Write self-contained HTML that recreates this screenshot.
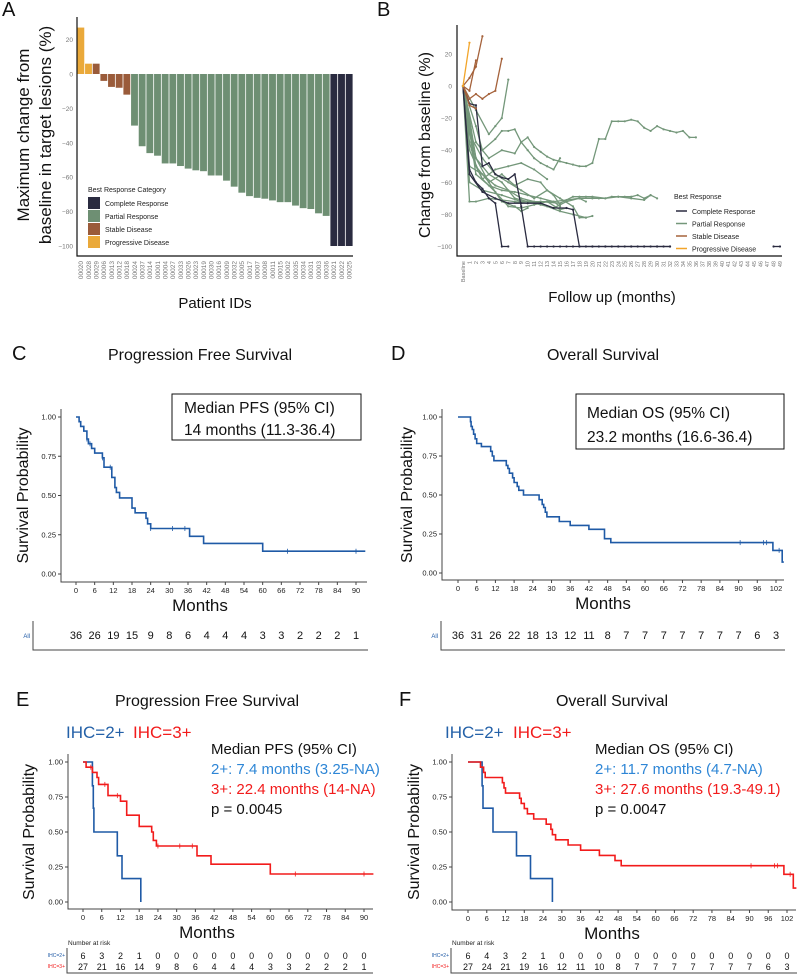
<!DOCTYPE html>
<html><head><meta charset="utf-8">
<style>
html,body{margin:0;padding:0;background:#fff}
svg{display:block;font-family:"Liberation Sans",sans-serif}
</style></head>
<body>
<svg id="fig" width="799" height="974" viewBox="0 0 799 974" xmlns="http://www.w3.org/2000/svg"></svg>
<script>
// ---------- Panel A data ----------
const aIds=["00020","00028","00029","00006","00013","00012","00018","00024","00037","00014","00001","00004","00027","00033","00026","00023","00019","00030","00016","00009","00032","00005","00017","00007","00008","00011","00015","00002","00035","00034","00031","00003","00036","00021","00022","00025"];
const aValues=[27,6,6,-4,-7.5,-8,-12,-30,-42,-46,-47.5,-52,-52,-53.5,-55,-56,-56.5,-59,-59,-62,-65.5,-69,-71,-72,-72.5,-73.5,-74.5,-74.5,-76.5,-78,-78.5,-81,-82.5,-100,-100,-100];
const aCats=["PD","PD","SD","SD","SD","SD","SD","PR","PR","PR","PR","PR","PR","PR","PR","PR","PR","PR","PR","PR","PR","PR","PR","PR","PR","PR","PR","PR","PR","PR","PR","PR","PR","CR","CR","CR"];
const aTicks=[20,0,-20,-40,-60,-80,-100];
// ---------- Panel B data ----------
const bMonths=["Baseline"].concat(Array.from({length:49},(_,i)=>String(i+1)));
const bTicks=[20,0,-20,-40,-60,-80,-100];
const bSeries=[
 {cat:"PR",pts:[[0,0],[2,-15],[4,-30],[5,-25],[6,-20],[7,4]]},
 {cat:"PR",pts:[[0,0],[2,-25],[3,-40],[5,-33],[6,-28],[7,-28],[8,-27],[9,-35],[10,-32],[11,-38],[12,-41],[13,-44],[14,-46],[15,-47],[16,-48],[17,-49],[18,-50],[19,-50],[20,-48],[21,-33],[22,-33],[23,-22],[24,-22],[25,-22],[26,-21],[27,-22],[28,-26],[29,-28],[30,-25],[31,-27],[32,-28],[33,-29],[34,-28],[35,-32],[36,-32]]},
 {cat:"PR",pts:[[0,0],[1,-72],[2,-72],[4,-70],[6,-71],[8,-72],[10,-73],[12,-72],[14,-72],[16,-71],[18,-70],[20,-70],[21,-70],[22,-70],[23,-69],[24,-69],[25,-69],[26,-69],[27,-68],[28,-70],[29,-68],[30,-70]]},
 {cat:"PR",pts:[[0,0],[1,-60],[3,-65],[6,-68],[9,-72],[12,-72],[15,-73],[17,-69],[18,-69],[19,-69],[20,-69],[22,-70],[24,-69],[26,-70],[28,-71],[29,-68]]},
 {cat:"PR",pts:[[0,0],[2,-45],[4,-55],[6,-60],[8,-70],[10,-72],[12,-74],[14,-76],[16,-72],[18,-70],[19,-72]]},
 {cat:"PR",pts:[[0,0],[1,-50],[3,-55],[5,-62],[7,-65],[9,-70],[11,-72],[13,-75],[15,-78],[17,-80],[19,-82],[20,-81]]},
 {cat:"PR",pts:[[0,0],[2,-35],[4,-45],[6,-40],[8,-42],[9,-35],[10,-40],[11,-45],[12,-48],[13,-50],[14,-52],[15,-45]]},
 {cat:"PR",pts:[[0,0],[1,-40],[3,-58],[5,-52],[7,-50],[9,-48],[11,-52],[13,-58]]},
 {cat:"PR",pts:[[0,0],[1,-30],[3,-45],[5,-55],[7,-60],[9,-65],[11,-70],[13,-65],[15,-70],[17,-75],[18,-82],[19,-82]]},
 {cat:"PR",pts:[[0,0],[2,-55],[4,-62],[6,-65],[8,-66],[10,-68],[12,-70],[14,-72],[15,-75]]},
 {cat:"PR",pts:[[0,0],[1,-20],[2,-45],[4,-60],[6,-72],[8,-75],[9,-78],[10,-76]]},
 {cat:"PR",pts:[[0,0],[2,-50],[4,-60],[6,-55],[8,-62],[10,-58],[12,-60],[13,-65],[14,-68],[15,-74]]},
 {cat:"PR",pts:[[0,0],[1,-35],[2,-50],[3,-58],[5,-66],[7,-75],[9,-76],[11,-74],[13,-72],[15,-77],[16,-76]]},
 {cat:"CR",pts:[[0,0],[1,-52],[2,-60],[3,-64],[4,-70],[5,-73],[6,-100],[7,-100]]},
 {cat:"CR",pts:[[0,0],[1,-11],[2,-12],[3,-50],[4,-48],[5,-55],[6,-57],[7,-58],[8,-55],[9,-75],[10,-100],[11,-100],[12,-100],[13,-100],[14,-100],[15,-100],[16,-100],[17,-100],[18,-100],[19,-100],[20,-100],[21,-100],[22,-100],[23,-100],[24,-100],[25,-100],[26,-100],[27,-100],[28,-100],[29,-100],[30,-100],[31,-100],[32,-100]]},
 {cat:"CR",pts:[[0,0],[1,-55],[3,-66],[5,-70],[7,-73],[9,-73],[10,-73],[12,-73],[14,-76],[16,-76],[17,-77],[18,-100],[20,-100],[22,-100],[24,-100],[26,-100],[28,-100],[30,-100],[32,-100]]},
 {cat:"CR",pts:[[48,-100],[49,-100]]},
 {cat:"SD",pts:[[0,0],[1,5],[2,12],[3,31]]},
 {cat:"SD",pts:[[0,0],[1,-8],[2,-5],[3,-8],[4,-5],[5,-3],[6,17]]},
 {cat:"SD",pts:[[0,0],[1,-3],[2,16]]},
 {cat:"SD",pts:[[0,0],[1,-12],[2,-14]]},
 {cat:"PD",pts:[[0,0],[1,27]]}
];
// ---------- Panel C / D data ----------
const cTimes=[1,1.5,2.5,3.5,4,5,6,8.5,9,11.5,12.5,13,14,18,19,22.5,23,24,36.5,41,60];
const cSurv=[0.97,0.94,0.91,0.86,0.83,0.80,0.77,0.74,0.68,0.615,0.55,0.52,0.485,0.42,0.39,0.355,0.32,0.29,0.24,0.195,0.145];
const cCensor=[3.5,4.5,8.5,11,24,31,35,68,90];
const cEnd=93;
const cRisk=[36,26,19,15,9,8,6,4,4,4,3,3,2,2,2,1];
const dTimes=[4,4.2,4.6,5,5.5,6,7.5,8,10.5,11,11.5,15.5,16,16.5,17.5,18,19,19.5,21,26,27,27.5,28,28.5,32.5,36,42,47,49,101,104];
const dSurv=[0.97,0.94,0.92,0.89,0.86,0.83,0.81,0.81,0.78,0.75,0.72,0.69,0.67,0.64,0.61,0.58,0.555,0.53,0.50,0.47,0.44,0.42,0.39,0.36,0.33,0.305,0.28,0.22,0.195,0.145,0.07];
const dCensor=[90.5,98,99,103];
const dEnd=104.5;
const dRisk=[36,31,26,22,18,13,12,11,8,7,7,7,7,7,7,7,6,3];
// ---------- Panel E / F data ----------
const eBlueTimes=[3,3.3,3.5,11,12.5,18.5];
const eBlueSurv=[0.83,0.67,0.5,0.33,0.167,0];
const eRedTimes=[1,3,4.5,5,8,12,14,18,22,22.5,23.5,36.5,41,60];
const eRedSurv=[0.963,0.926,0.889,0.84,0.76,0.72,0.62,0.54,0.50,0.44,0.40,0.33,0.27,0.20];
const eRedCensor=[2.5,7,11,24,31,35,68,90];
const eRedEnd=93;
const eRisk2=[6,3,2,1,0,0,0,0,0,0,0,0,0,0,0,0];
const eRisk3=[27,21,16,14,9,8,6,4,4,4,3,3,2,2,2,1];
const fBlueTimes=[4.5,4.8,8,15.5,20,27];
const fBlueSurv=[0.83,0.67,0.5,0.33,0.167,0];
const fRedTimes=[4,5,5.5,11,11.5,12,16.5,17,18,19,21,25,26.5,27,28,32,36,42,47,49,101,104];
const fRedSurv=[0.963,0.926,0.889,0.852,0.815,0.778,0.741,0.704,0.667,0.63,0.593,0.556,0.519,0.481,0.444,0.407,0.37,0.333,0.296,0.259,0.198,0.099];
const fRedCensor=[90.5,98,99,103];
const fRedEnd=105;
const fRisk2=[6,4,3,2,1,0,0,0,0,0,0,0,0,0,0,0,0,0];
const fRisk3=[27,24,21,19,16,12,11,10,8,7,7,7,7,7,7,7,6,3];
const survTicks=[1.00,0.75,0.50,0.25,0.00];

// ---------- helpers ----------
const NS="http://www.w3.org/2000/svg";
const svg=document.getElementById('fig');
function mk(tag,attrs,parent){const e=document.createElementNS(NS,tag);for(const k in attrs)e.setAttribute(k,attrs[k]);(parent||svg).appendChild(e);return e;}
function txt(s,x,y,size,attrs,parent){const e=mk('text',Object.assign({x:x,y:y,'font-size':size},attrs||{}),parent);e.textContent=s;return e;}
const catColor={CR:"#2a2b40",PR:"#6e8f73",SD:"#9a5b3a",PD:"#eaa93a"};
const catLine={CR:"#2a2b40",PR:"#74977a",SD:"#a5623b",PD:"#f2a52a"};

// ================= Panel A =================
(function(){
 const g=mk('g',{});
 
 
 const L=77,R=353,yA=v=>74-v*1.72,bw=(R-L)/aValues.length;
 const lab=txt("A",2,16,20,{fill:"#111"},g);
 
 
 aValues.forEach((v,i)=>{
  const y0=yA(0),y1=yA(v);
  const r=mk('rect',{x:L+i*bw+0.4,y:Math.min(y0,y1),width:bw-0.8,height:Math.abs(y1-y0),fill:catColor[aCats[i]]},g);
  
  
  const t=txt(aIds[i],0,0,6.5,{fill:"#777",'text-anchor':'end',transform:`translate(${L+i*bw+bw/2+2.3},261) rotate(-90)`},g);
  
  
 });
 aTicks.forEach(v=>{
  const t=txt(String(v).replace('-','−'),73,yA(v)+2.5,6.5,{fill:"#777",'text-anchor':'end'},g);
  
  
 });
 mk('path',{d:`M${L},17V256H${R}`,stroke:"#111",'stroke-width':1.2,fill:'none'},g);
 const yl=txt("Maximum change from",0,0,17,{fill:"#111",'text-anchor':'middle',transform:'translate(29,135) rotate(-90)'},g);
 
 
 const yl2=txt("baseline in target lesions (%)",0,0,17,{fill:"#111",'text-anchor':'middle',transform:'translate(51,135) rotate(-90)'},g);
 
 
 const xl=txt("Patient IDs",215,308,15,{fill:"#111",'text-anchor':'middle'},g);
 
 
 const lt=txt("Best Response Category",88,192,7,{fill:"#222"},g);
 
 
 [["CR","Complete Response"],["PR","Partial Response"],["SD","Stable Disease"],["PD","Progressive Disease"]].forEach((e,i)=>{
  const le=mk('g',{},g);
  
  
  mk('rect',{x:88,y:197+i*13,width:12,height:12,fill:catColor[e[0]]},le);
  txt(e[1],105,206+i*13,7,{fill:"#222"},le);
 });
})();

// ================= Panel B =================
(function(){
 const g=mk('g',{});
 
 
 const X0=463,dx=(780-463)/49,yB=v=>86-v*1.605;
 const lab=txt("B",377,16,20,{fill:"#111"},g);
 
 
 bSeries.forEach(s=>{
  const d=s.pts.map((p,i)=>(i?'L':'M')+(X0+p[0]*dx).toFixed(1)+','+yB(p[1]).toFixed(1)).join('');
  const ln=mk('path',{d:d,stroke:catLine[s.cat],'stroke-width':1.3,fill:'none'},g);
  
  
  s.pts.forEach(p=>{
   const c=mk('circle',{cx:X0+p[0]*dx,cy:yB(p[1]),r:1.1,fill:catLine[s.cat]},g);
   
   
  });
 });
 bMonths.forEach((m,i)=>{
  const t=txt(m,0,0,5.5,{fill:"#777",'text-anchor':'end',transform:`translate(${X0+i*dx+2},261) rotate(-90)`},g);
  
  
 });
 bTicks.forEach(v=>{
  const t=txt(String(v).replace('-','−'),452,yB(v)+2.5,6.5,{fill:"#777",'text-anchor':'end'},g);
  
  
 });
 mk('path',{d:`M457,25V256H782`,stroke:"#111",'stroke-width':1.2,fill:'none'},g);
 const yl=txt("Change from baseline (%)",0,0,16,{fill:"#111",'text-anchor':'middle',transform:'translate(430,145) rotate(-90)'},g);
 
 
 const xl=txt("Follow up (months)",612,302,15,{fill:"#111",'text-anchor':'middle'},g);
 
 
 const lt=txt("Best Response",674,199,7,{fill:"#222"},g);
 
 
 [["CR","Complete Response"],["PR","Partial Response"],["SD","Stable Disease"],["PD","Progressive Disease"]].forEach((e,i)=>{
  const le=mk('g',{},g);
  
  
  mk('line',{x1:676,x2:687,y1:211+i*12.5,y2:211+i*12.5,stroke:catLine[e[0]],'stroke-width':1.5},le);
  txt(e[1],692,214+i*12.5,7,{fill:"#222"},le);
 });
})();

// ================= KM helper =================
function kmPanel(o){
 const g=mk('g',{});
 
 
 const xs=t=>o.x0+t*o.pxm, ys=s=>o.y0+(1-s)*(o.y1-o.y0)/1;
 const lab=txt(o.letter,o.letterX,o.titleY+6,20,{fill:"#111"},g);
 
 
 const ti=txt(o.title,o.titleX,o.titleY+6,16,{fill:"#111",'text-anchor':'middle'},g);
 
 
 // axes
 mk('path',{d:`M${o.axL},${o.y0-8}V${o.axB}H${o.axR}`,stroke:"#444",'stroke-width':1,fill:'none'},g);
 survTicks.forEach(v=>{
  const t=txt(v.toFixed(2),o.axL-5,ys(v)+2.5,7.5,{fill:"#222",'text-anchor':'end'},g);
  
  
  mk('line',{x1:o.axL-3,x2:o.axL,y1:ys(v),y2:ys(v),stroke:"#444"},g);
 });
 for(let m=0;m<=o.maxTick;m+=6){
  const t=txt(String(m),xs(m),o.axB+11,7.5,{fill:"#222",'text-anchor':'middle'},g);
  
  
  mk('line',{x1:xs(m),x2:xs(m),y1:o.axB,y2:o.axB+3,stroke:"#444"},g);
 }
 const yl=txt("Survival Probability",0,0,16,{fill:"#111",'text-anchor':'middle',transform:`translate(${o.ylabX},${(o.y0+o.y1)/2}) rotate(-90)`},g);
 
 
 const xl=txt("Months",o.titleX,o.axB+29,17,{fill:"#111",'text-anchor':'middle'},g);
 
 
 o.curves.forEach(c=>{
  let d=`M${xs(0)},${ys(1)}`;
  c.times.forEach((t,i)=>{d+=`H${xs(t).toFixed(1)}V${ys(c.surv[i]).toFixed(1)}`;});
  d+=`H${xs(c.end).toFixed(1)}`;
  const p=mk('path',{d:d,stroke:c.color,'stroke-width':1.6,fill:'none'},g);
  
  
  c.censor.forEach(t=>{
   let s=1;c.times.forEach((tt,i)=>{if(tt<=t)s=c.surv[i];});
   const m=mk('line',{x1:xs(t),x2:xs(t),y1:ys(s)-2.5,y2:ys(s)+2.5,stroke:c.color,'stroke-width':0.8},g);
   
   
  });
 });
 return {g,xs,ys};
}
function riskRow(g,xs,vals,y,size){
 vals.forEach((v,i)=>{
  const t=txt(String(v),xs(i*6),y,size,{fill:"#111",'text-anchor':'middle'},g);
  
  
 });
}

// ================= Panel C =================
(function(){
 const P=kmPanel({name:'pfs-panel-c',letter:'C',letterX:12,title:'Progression Free Survival',titleX:200,titleY:354,
  x0:76,pxm:(356-76)/90,y0:417,y1:574,axL:61,axB:582,axR:367,maxTick:90,ylabX:28,
  curves:[{name:'pfs-curve',times:cTimes,surv:cSurv,censor:cCensor,end:cEnd,color:'#1f5aa6'}]});
 const box=mk('rect',{x:172,y:394,width:189,height:46,fill:'#fff',stroke:'#111','stroke-width':1},P.g);
 
 
 txt("Median PFS (95% CI)",184,413,15.5,{fill:'#111'},P.g);
 txt("14 months (11.3-36.4)",184,435,15.5,{fill:'#111'},P.g);
 mk('path',{d:'M33,621V650H368',stroke:'#444',fill:'none'},P.g);
 const al=txt("All",30,638,6,{fill:'#1f5aa6','text-anchor':'end'},P.g);
 
 
 riskRow(P.g,P.xs,cRisk,639,11);
})();

// ================= Panel D =================
(function(){
 const P=kmPanel({name:'os-panel-d',letter:'D',letterX:391,title:'Overall Survival',titleX:603,titleY:354,
  x0:458,pxm:(776-458)/102,y0:417,y1:573,axL:442,axB:580,axR:784,maxTick:102,ylabX:412,
  curves:[{name:'os-curve',times:dTimes,surv:dSurv,censor:dCensor,end:dEnd,color:'#1f5aa6'}]});
 const box=mk('rect',{x:576,y:394,width:208,height:55,fill:'#fff',stroke:'#111','stroke-width':1},P.g);
 
 
 txt("Median OS (95% CI)",587,418,15.5,{fill:'#111'},P.g);
 txt("23.2 months (16.6-36.4)",587,442,15.5,{fill:'#111'},P.g);
 mk('path',{d:'M441,621V650H785',stroke:'#444',fill:'none'},P.g);
 const al=txt("All",438,638,6,{fill:'#1f5aa6','text-anchor':'end'},P.g);
 
 
 riskRow(P.g,P.xs,dRisk,639,11);
})();

// ================= Panel E =================
(function(){
 const P=kmPanel({name:'pfs-ihc-panel-e',letter:'E',letterX:16,title:'Progression Free Survival',titleX:207,titleY:700,
  x0:83,pxm:(364-83)/90,y0:762,y1:902,axL:68,axB:909,axR:373,maxTick:90,ylabX:34,
  curves:[{name:'pfs-ihc2-curve',times:eBlueTimes,surv:eBlueSurv,censor:[],end:18.5,color:'#1f5aa6'},
          {name:'pfs-ihc3-curve',times:eRedTimes,surv:eRedSurv,censor:eRedCensor,end:eRedEnd,color:'#f21b1b'}]});
 txt("IHC=2+",66,738,17,{fill:'#2461a8'},P.g);
 txt("IHC=3+",133,738,17,{fill:'#f21b1b'},P.g);
 txt("Median PFS (95% CI)",211,754,15,{fill:'#111'},P.g);
 txt("2+: 7.4 months (3.25-NA)",211,774,15,{fill:'#2e86d6'},P.g);
 txt("3+: 22.4 months (14-NA)",211,794,15,{fill:'#f21b1b'},P.g);
 txt("p = 0.0045",211,814,15,{fill:'#111'},P.g);
 txt("Number at risk",68,945,6.5,{fill:'#222'},P.g);
 mk('path',{d:'M67,948V973H373',stroke:'#444',fill:'none'},P.g);
 txt("IHC=2+",65,957,5,{fill:'#1f5aa6','text-anchor':'end'},P.g);
 txt("IHC=3+",65,968,5,{fill:'#f21b1b','text-anchor':'end'},P.g);
 riskRow(P.g,P.xs,eRisk2,959,9);
 riskRow(P.g,P.xs,eRisk3,970,9);
})();

// ================= Panel F =================
(function(){
 const P=kmPanel({name:'os-ihc-panel-f',letter:'F',letterX:399,title:'Overall Survival',titleX:612,titleY:700,
  x0:468,pxm:(787-468)/102,y0:762,y1:902,axL:452,axB:910,axR:796,maxTick:102,ylabX:419,
  curves:[{name:'os-ihc2-curve',times:fBlueTimes,surv:fBlueSurv,censor:[],end:27,color:'#1f5aa6'},
          {name:'os-ihc3-curve',times:fRedTimes,surv:fRedSurv,censor:fRedCensor,end:fRedEnd,color:'#f21b1b'}]});
 txt("IHC=2+",445,738,17,{fill:'#2461a8'},P.g);
 txt("IHC=3+",513,738,17,{fill:'#f21b1b'},P.g);
 txt("Median OS (95% CI)",595,754,15,{fill:'#111'},P.g);
 txt("2+:  11.7 months (4.7-NA)",595,774,15,{fill:'#2e86d6'},P.g);
 txt("3+: 27.6 months (19.3-49.1)",595,794,15,{fill:'#f21b1b'},P.g);
 txt("p = 0.0047",595,814,15,{fill:'#111'},P.g);
 txt("Number at risk",452,945,6.5,{fill:'#222'},P.g);
 mk('path',{d:'M451,948V973H797',stroke:'#444',fill:'none'},P.g);
 txt("IHC=2+",449,957,5,{fill:'#1f5aa6','text-anchor':'end'},P.g);
 txt("IHC=3+",449,968,5,{fill:'#f21b1b','text-anchor':'end'},P.g);
 riskRow(P.g,P.xs,fRisk2,959,9);
 riskRow(P.g,P.xs,fRisk3,970,9);
})();
</script>
</body></html>
